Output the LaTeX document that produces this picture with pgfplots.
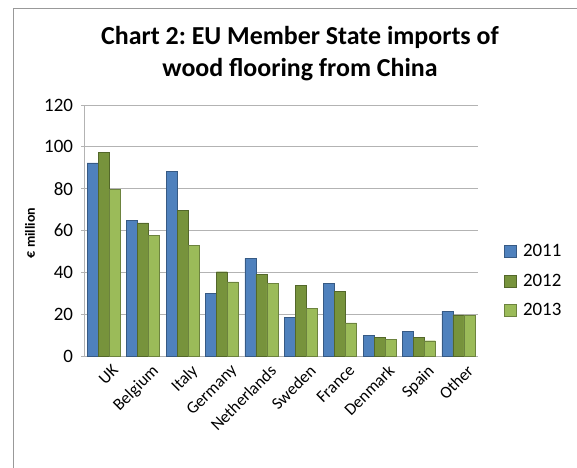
\documentclass[border=0pt]{standalone}
\usepackage{pgfplots}
\pgfplotsset{compat=1.18}
\usepackage{fontspec}
\setmainfont{Carlito}
\frenchspacing
\definecolor{c11}{HTML}{4F81BD}
\definecolor{c12}{HTML}{77933C}
\definecolor{c13}{HTML}{9BBB59}
\definecolor{gridc}{HTML}{B3B3B3}
\begin{document}
\begin{tikzpicture}
\useasboundingbox (0,0) rectangle (577bp,-468bp);
\draw[gray!80, line width=0.8bp] (13bp,-468bp) -- (13bp,-8bp) -- (577bp,-8bp);
\node[font=\fontsize{26}{32}\selectfont\bfseries, align=center, anchor=center] at (300bp,-54bp) {Chart 2: EU Member State imports of\\wood flooring from China};
\node[font=\fontsize{14}{16}\selectfont\bfseries, rotate=90] at (30bp,-233bp) {€ million};
\begin{axis}[
  at={(84bp,-356bp)}, anchor=south west,
  scale only axis, width=394bp, height=251bp,
  ybar=0pt, bar width=11bp,
  xmin=-0.5, xmax=9.5, ymin=0, ymax=120,
  ytick={0,20,...,120},
  xtick={0,...,9},
  xticklabels={UK,Belgium,Italy,Germany,Netherlands,Sweden,France,Denmark,Spain,Other},
  x tick label style={rotate=45, anchor=north east, font=\fontsize{17}{19}\selectfont, inner sep=1bp, xshift=3bp, yshift=-8bp},
  major x tick style={draw=none},
  extra x ticks={-0.5,0.5,...,9.5},
  extra x tick labels={},
  extra x tick style={grid=none, tick style={draw=gridc, line width=0.8bp}, major tick length=5bp, tick align=outside},
  y tick label style={font=\fontsize{19}{21}\selectfont, xshift=-5bp},
  /pgf/number format/assume math mode=true,
  ytick style={draw=gridc, line width=0.8bp},
  major tick length=5bp, tick align=outside,
  ymajorgrids, grid style={draw=gridc, line width=0.8bp},
  axis lines=left, axis line style={-, draw=gridc, line width=0.8bp},
  xtick pos=bottom, ytick pos=left,
  legend style={at={(1.06,0.30)}, anchor=west, draw=none, fill=none, font=\fontsize{19}{21}\selectfont, row sep=12bp, inner sep=2bp},
  legend cell align=left,
  legend image code/.code={\draw[#1, bar width=0, bar shift=0] (0bp,-6bp) rectangle (12bp,6bp); \path[draw=none, fill=none] (17bp,0bp);},
]
\addplot[fill=c11, draw=c11!70!black] coordinates {(0,92.3) (1,64.7) (2,88.3) (3,30.1) (4,46.7) (5,18.5) (6,34.6) (7,10.0) (8,11.8) (9,21.3)};
\addplot[fill=c12, draw=c12!70!black] coordinates {(0,97.4) (1,63.7) (2,69.5) (3,40.3) (4,39.2) (5,33.7) (6,30.8) (7,8.9) (8,8.9) (9,19.7)};
\addplot[fill=c13, draw=c13!70!black] coordinates {(0,79.8) (1,57.7) (2,52.9) (3,35.5) (4,34.6) (5,22.7) (6,15.8) (7,8.0) (8,7.3) (9,19.5)};
\legend{2011,2012,2013}
\end{axis}
\end{tikzpicture}
\end{document}
